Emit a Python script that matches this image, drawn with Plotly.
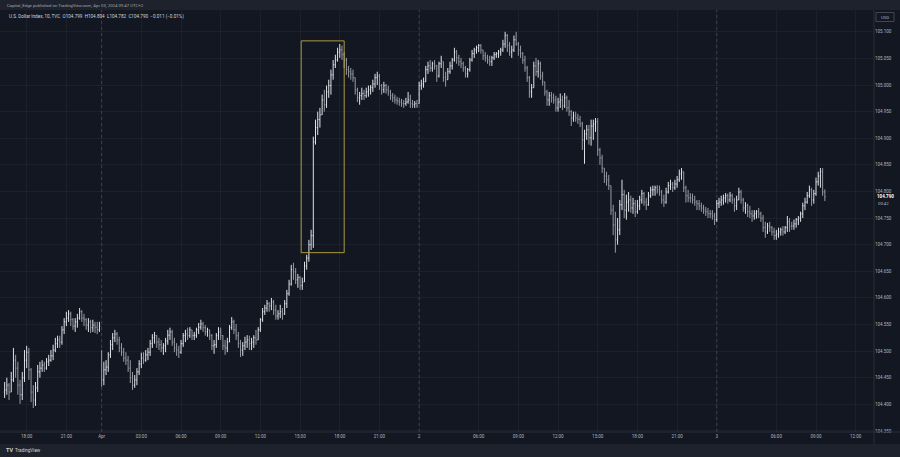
import plotly.graph_objects as go
from datetime import datetime, timedelta

# ---------------- data: U.S. Dollar Index, 10-minute bars (TVC:DXY), UTC+2 ----------------
sessions = [("2024-03-29 16:20", "2024-03-29 23:30"),
            ("2024-04-01 00:00", "2024-04-01 23:50"),
            ("2024-04-02 01:30", "2024-04-02 23:50"),
            ("2024-04-03 01:30", "2024-04-03 09:40")]

opens = [
    # Mar 29
    104.423, 104.427, 104.436, 104.423, 104.446, 104.483, 104.468, 104.436, 104.418, 104.450,
    104.483, 104.498, 104.465, 104.423, 104.408, 104.431, 104.461, 104.468, 104.474, 104.468,
    104.480, 104.483, 104.491, 104.502, 104.514, 104.521, 104.517, 104.540, 104.555, 104.562,
    104.570, 104.559, 104.547, 104.555, 104.562, 104.574, 104.562, 104.559, 104.549, 104.555,
    104.544, 104.549, 104.545, 104.540,
    # Apr 1
    104.493, 104.446, 104.465, 104.470, 104.493, 104.512, 104.525, 104.532, 104.521, 104.506,
    104.498, 104.487, 104.483, 104.468, 104.450, 104.436, 104.446, 104.461, 104.476, 104.487,
    104.483, 104.493, 104.498, 104.514, 104.525, 104.529, 104.517, 104.512, 104.506, 104.510,
    104.519, 104.530, 104.536, 104.517, 104.506, 104.502, 104.498, 104.514, 104.529, 104.532,
    104.529, 104.540, 104.529, 104.530, 104.540, 104.545, 104.551, 104.544, 104.536, 104.540,
    104.529, 104.510, 104.512, 104.529, 104.536, 104.529, 104.510, 104.506, 104.517, 104.544,
    104.555, 104.540, 104.529, 104.514, 104.502, 104.510, 104.517, 104.521, 104.514, 104.517,
    104.525, 104.521, 104.540, 104.559, 104.574, 104.581, 104.589, 104.585, 104.592, 104.577,
    104.566, 104.570, 104.574, 104.570, 104.589, 104.608, 104.626, 104.653, 104.649, 104.634,
    104.638, 104.623, 104.630, 104.660, 104.675, 104.700, 104.717, 104.893, 104.920, 104.935,
    104.944, 104.972, 104.963, 104.987, 104.999, 105.019, 105.038, 105.047, 105.062, 105.066,
    105.057, 105.047, 105.029, 105.025, 105.021, 105.014, 104.991, 104.976, 104.980, 104.984,
    104.980, 104.987, 104.991, 104.995, 105.002, 105.014, 105.017, 104.999, 104.991, 104.999,
    104.991, 104.987, 104.980, 104.976, 104.972, 104.970, 104.968, 104.965, 104.965, 104.968,
    104.972, 104.965, 104.963, 104.965,
    # Apr 2
    104.965, 104.999, 105.002, 105.006, 105.029, 105.036, 105.032, 105.040, 105.036, 105.017,
    105.040, 105.044, 105.014, 105.010, 105.025, 105.036, 105.047, 105.062, 105.051, 105.044,
    105.040, 105.032, 105.021, 105.029, 105.047, 105.059, 105.066, 105.070, 105.074, 105.066,
    105.055, 105.051, 105.047, 105.044, 105.051, 105.057, 105.059, 105.062, 105.066, 105.077,
    105.093, 105.074, 105.062, 105.066, 105.085, 105.077, 105.066, 105.059, 105.047, 105.032,
    105.014, 104.987, 104.995, 105.036, 105.025, 105.040, 105.017, 105.006, 104.987, 104.972,
    104.980, 104.976, 104.972, 104.957, 104.968, 104.972, 104.961, 104.976, 104.957, 104.950,
    104.938, 104.942, 104.938, 104.935, 104.927, 104.897, 104.908, 104.916, 104.901, 104.923,
    104.927, 104.931, 104.878, 104.863, 104.844, 104.829, 104.822, 104.811, 104.765, 104.737,
    104.709, 104.728, 104.775, 104.794, 104.765, 104.780, 104.784, 104.769, 104.777, 104.762,
    104.773, 104.784, 104.796, 104.780, 104.775, 104.792, 104.803, 104.803, 104.807, 104.803,
    104.799, 104.784, 104.780, 104.799, 104.811, 104.814, 104.807, 104.814, 104.822, 104.833,
    104.837, 104.807, 104.792, 104.788, 104.788, 104.784, 104.780, 104.777, 104.773, 104.769,
    104.765, 104.762, 104.758, 104.758, 104.754,
    # Apr 3
    104.747, 104.777, 104.780, 104.784, 104.788, 104.792, 104.784, 104.792, 104.784, 104.773,
    104.784, 104.799, 104.784, 104.769, 104.773, 104.762, 104.758, 104.754, 104.758, 104.762,
    104.758, 104.750, 104.732, 104.724, 104.735, 104.732, 104.724, 104.717, 104.720, 104.724,
    104.728, 104.724, 104.732, 104.743, 104.735, 104.735, 104.739, 104.747, 104.750, 104.758,
    104.773, 104.780, 104.792, 104.803, 104.784, 104.796, 104.818, 104.829, 104.837, 104.799,
]

highs = [
    # Mar 29
    104.442, 104.450, 104.440, 104.461, 104.506, 104.493, 104.480, 104.446, 104.461, 104.502,
    104.510, 104.506, 104.468, 104.436, 104.442, 104.474, 104.480, 104.483, 104.480, 104.487,
    104.493, 104.502, 104.512, 104.525, 104.529, 104.529, 104.547, 104.562, 104.574, 104.577,
    104.574, 104.562, 104.562, 104.570, 104.581, 104.577, 104.570, 104.562, 104.562, 104.559,
    104.559, 104.555, 104.555, 104.555,
    # Apr 1
    104.502, 104.480, 104.483, 104.498, 104.521, 104.534, 104.540, 104.536, 104.527, 104.515,
    104.506, 104.498, 104.491, 104.483, 104.461, 104.455, 104.468, 104.483, 104.497, 104.498,
    104.502, 104.506, 104.521, 104.532, 104.536, 104.530, 104.525, 104.521, 104.515, 104.525,
    104.540, 104.544, 104.540, 104.525, 104.515, 104.510, 104.521, 104.534, 104.540, 104.544,
    104.545, 104.540, 104.536, 104.544, 104.553, 104.559, 104.555, 104.549, 104.544, 104.540,
    104.532, 104.521, 104.534, 104.545, 104.544, 104.530, 104.521, 104.525, 104.549, 104.564,
    104.559, 104.551, 104.536, 104.521, 104.517, 104.527, 104.530, 104.529, 104.525, 104.530,
    104.540, 104.545, 104.562, 104.581, 104.587, 104.596, 104.592, 104.600, 104.596, 104.587,
    104.577, 104.587, 104.581, 104.596, 104.615, 104.634, 104.662, 104.666, 104.656, 104.645,
    104.641, 104.638, 104.668, 104.681, 104.709, 104.728, 104.903, 104.935, 104.950, 104.957,
    104.982, 104.991, 104.999, 105.010, 105.029, 105.047, 105.057, 105.070, 105.077, 105.074,
    105.062, 105.051, 105.036, 105.032, 105.029, 105.014, 104.995, 104.987, 104.995, 104.991,
    104.995, 104.999, 105.000, 105.010, 105.021, 105.025, 105.021, 105.002, 105.006, 105.002,
    104.999, 104.991, 104.985, 104.982, 104.978, 104.976, 104.974, 104.972, 104.976, 104.987,
    104.982, 104.972, 104.970, 104.972,
    # Apr 2
    105.006, 105.010, 105.014, 105.036, 105.044, 105.047, 105.044, 105.047, 105.038, 105.044,
    105.055, 105.044, 105.025, 105.032, 105.044, 105.051, 105.070, 105.066, 105.057, 105.051,
    105.044, 105.036, 105.032, 105.051, 105.066, 105.070, 105.074, 105.077, 105.077, 105.066,
    105.062, 105.057, 105.055, 105.055, 105.062, 105.062, 105.066, 105.070, 105.085, 105.100,
    105.096, 105.081, 105.074, 105.093, 105.100, 105.081, 105.074, 105.062, 105.055, 105.036,
    105.017, 105.002, 105.044, 105.051, 105.047, 105.044, 105.025, 105.006, 104.991, 104.987,
    104.987, 104.984, 104.980, 104.976, 104.984, 104.980, 104.985, 104.980, 104.972, 104.953,
    104.950, 104.950, 104.946, 104.942, 104.931, 104.916, 104.925, 104.925, 104.935, 104.935,
    104.938, 104.938, 104.882, 104.869, 104.844, 104.837, 104.831, 104.811, 104.775, 104.762,
    104.750, 104.784, 104.822, 104.803, 104.794, 104.799, 104.792, 104.788, 104.784, 104.784,
    104.792, 104.803, 104.799, 104.788, 104.799, 104.809, 104.811, 104.811, 104.812, 104.811,
    104.803, 104.794, 104.807, 104.818, 104.822, 104.818, 104.822, 104.829, 104.841, 104.844,
    104.837, 104.811, 104.803, 104.797, 104.796, 104.792, 104.784, 104.784, 104.779, 104.775,
    104.771, 104.769, 104.765, 104.765, 104.760,
    # Apr 3
    104.784, 104.788, 104.792, 104.794, 104.797, 104.796, 104.799, 104.796, 104.788, 104.792,
    104.807, 104.803, 104.788, 104.780, 104.777, 104.773, 104.765, 104.765, 104.765, 104.769,
    104.762, 104.756, 104.743, 104.741, 104.743, 104.735, 104.732, 104.728, 104.732, 104.732,
    104.735, 104.735, 104.754, 104.750, 104.743, 104.747, 104.750, 104.754, 104.762, 104.779,
    104.788, 104.799, 104.811, 104.807, 104.803, 104.826, 104.837, 104.844, 104.844, 104.804,
]

lows = [
    # Mar 29
    104.412, 104.418, 104.408, 104.423, 104.442, 104.450, 104.418, 104.401, 104.408, 104.442,
    104.468, 104.446, 104.404, 104.393, 104.397, 104.423, 104.450, 104.461, 104.461, 104.465,
    104.472, 104.480, 104.483, 104.498, 104.506, 104.506, 104.512, 104.532, 104.547, 104.555,
    104.547, 104.540, 104.536, 104.544, 104.559, 104.555, 104.547, 104.540, 104.536, 104.534,
    104.536, 104.534, 104.532, 104.536,
    # Apr 1
    104.433, 104.436, 104.455, 104.461, 104.487, 104.502, 104.517, 104.512, 104.498, 104.491,
    104.480, 104.474, 104.461, 104.440, 104.427, 104.431, 104.436, 104.455, 104.468, 104.476,
    104.480, 104.483, 104.491, 104.506, 104.514, 104.506, 104.502, 104.498, 104.493, 104.498,
    104.512, 104.521, 104.510, 104.498, 104.491, 104.487, 104.495, 104.508, 104.517, 104.521,
    104.525, 104.521, 104.521, 104.525, 104.532, 104.540, 104.536, 104.529, 104.527, 104.521,
    104.502, 104.495, 104.506, 104.521, 104.521, 104.502, 104.493, 104.498, 104.517, 104.540,
    104.532, 104.521, 104.506, 104.489, 104.491, 104.502, 104.506, 104.502, 104.502, 104.506,
    104.512, 104.521, 104.536, 104.555, 104.568, 104.574, 104.574, 104.577, 104.568, 104.559,
    104.559, 104.562, 104.559, 104.568, 104.581, 104.604, 104.623, 104.634, 104.626, 104.619,
    104.615, 104.615, 104.630, 104.653, 104.668, 104.690, 104.694, 104.888, 104.906, 104.920,
    104.944, 104.950, 104.957, 104.976, 104.982, 105.010, 105.032, 105.044, 105.051, 105.047,
    105.032, 105.019, 105.014, 105.010, 105.006, 104.982, 104.968, 104.963, 104.972, 104.972,
    104.976, 104.978, 104.982, 104.987, 104.995, 105.000, 104.991, 104.982, 104.985, 104.984,
    104.980, 104.972, 104.968, 104.965, 104.963, 104.961, 104.959, 104.957, 104.961, 104.965,
    104.957, 104.957, 104.957, 104.957,
    # Apr 2
    104.965, 104.991, 104.995, 105.006, 105.021, 105.025, 105.025, 105.029, 105.006, 105.014,
    105.032, 105.006, 104.997, 105.010, 105.021, 105.029, 105.044, 105.040, 105.036, 105.032,
    105.025, 105.014, 105.014, 105.025, 105.044, 105.051, 105.059, 105.062, 105.059, 105.047,
    105.044, 105.040, 105.036, 105.036, 105.047, 105.051, 105.051, 105.055, 105.062, 105.070,
    105.062, 105.055, 105.051, 105.062, 105.074, 105.055, 105.051, 105.040, 105.025, 105.006,
    104.976, 104.976, 104.995, 105.017, 105.014, 105.010, 104.999, 104.980, 104.961, 104.961,
    104.967, 104.965, 104.950, 104.950, 104.957, 104.953, 104.957, 104.950, 104.942, 104.923,
    104.931, 104.931, 104.927, 104.921, 104.878, 104.852, 104.897, 104.888, 104.886, 104.897,
    104.912, 104.867, 104.850, 104.835, 104.816, 104.811, 104.803, 104.756, 104.718, 104.685,
    104.700, 104.718, 104.765, 104.750, 104.747, 104.762, 104.760, 104.758, 104.752, 104.758,
    104.765, 104.777, 104.773, 104.765, 104.773, 104.788, 104.792, 104.792, 104.796, 104.792,
    104.777, 104.771, 104.777, 104.796, 104.803, 104.799, 104.803, 104.807, 104.818, 104.822,
    104.799, 104.779, 104.780, 104.779, 104.777, 104.773, 104.765, 104.765, 104.762, 104.758,
    104.754, 104.750, 104.750, 104.747, 104.737,
    # Apr 3
    104.743, 104.769, 104.773, 104.775, 104.779, 104.777, 104.780, 104.777, 104.762, 104.765,
    104.784, 104.777, 104.762, 104.758, 104.752, 104.750, 104.743, 104.747, 104.749, 104.750,
    104.743, 104.724, 104.713, 104.720, 104.724, 104.717, 104.709, 104.709, 104.713, 104.717,
    104.717, 104.720, 104.724, 104.724, 104.728, 104.728, 104.732, 104.737, 104.743, 104.750,
    104.765, 104.777, 104.788, 104.773, 104.777, 104.792, 104.811, 104.807, 104.792, 104.782,
]

closes = [
    # Mar 29
    104.427, 104.436, 104.423, 104.446, 104.483, 104.468, 104.436, 104.418, 104.450, 104.483,
    104.498, 104.465, 104.423, 104.408, 104.431, 104.461, 104.468, 104.474, 104.468, 104.480,
    104.483, 104.491, 104.502, 104.514, 104.521, 104.517, 104.540, 104.555, 104.562, 104.570,
    104.559, 104.547, 104.555, 104.562, 104.574, 104.562, 104.559, 104.549, 104.555, 104.544,
    104.549, 104.545, 104.540, 104.547,
    # Apr 1
    104.446, 104.465, 104.470, 104.493, 104.512, 104.525, 104.532, 104.521, 104.506, 104.498,
    104.487, 104.483, 104.468, 104.450, 104.436, 104.446, 104.461, 104.476, 104.487, 104.483,
    104.493, 104.498, 104.514, 104.525, 104.529, 104.517, 104.512, 104.506, 104.510, 104.519,
    104.530, 104.536, 104.517, 104.506, 104.502, 104.498, 104.514, 104.529, 104.532, 104.529,
    104.540, 104.529, 104.530, 104.540, 104.545, 104.551, 104.544, 104.536, 104.540, 104.529,
    104.510, 104.512, 104.529, 104.536, 104.529, 104.510, 104.506, 104.517, 104.544, 104.555,
    104.540, 104.529, 104.514, 104.502, 104.510, 104.517, 104.521, 104.514, 104.517, 104.525,
    104.521, 104.540, 104.559, 104.574, 104.581, 104.589, 104.585, 104.592, 104.577, 104.566,
    104.570, 104.574, 104.570, 104.589, 104.608, 104.626, 104.653, 104.649, 104.634, 104.638,
    104.623, 104.630, 104.660, 104.675, 104.700, 104.717, 104.893, 104.920, 104.935, 104.944,
    104.972, 104.963, 104.987, 104.999, 105.019, 105.038, 105.047, 105.062, 105.066, 105.057,
    105.047, 105.029, 105.025, 105.021, 105.014, 104.991, 104.976, 104.980, 104.984, 104.980,
    104.987, 104.991, 104.995, 105.002, 105.014, 105.017, 104.999, 104.991, 104.999, 104.991,
    104.987, 104.980, 104.976, 104.972, 104.970, 104.968, 104.965, 104.965, 104.968, 104.972,
    104.965, 104.963, 104.965, 104.961,
    # Apr 2
    104.999, 105.002, 105.006, 105.029, 105.036, 105.032, 105.040, 105.036, 105.017, 105.040,
    105.047, 105.014, 105.010, 105.025, 105.036, 105.047, 105.062, 105.051, 105.044, 105.040,
    105.032, 105.021, 105.029, 105.047, 105.059, 105.066, 105.070, 105.074, 105.066, 105.055,
    105.051, 105.047, 105.044, 105.051, 105.057, 105.059, 105.062, 105.066, 105.077, 105.093,
    105.074, 105.062, 105.066, 105.085, 105.077, 105.066, 105.059, 105.047, 105.032, 105.014,
    104.987, 104.995, 105.036, 105.025, 105.040, 105.017, 105.006, 104.987, 104.972, 104.980,
    104.976, 104.972, 104.957, 104.968, 104.972, 104.961, 104.976, 104.957, 104.950, 104.938,
    104.942, 104.938, 104.935, 104.927, 104.897, 104.908, 104.916, 104.901, 104.923, 104.927,
    104.931, 104.878, 104.863, 104.844, 104.829, 104.822, 104.811, 104.765, 104.737, 104.709,
    104.728, 104.775, 104.794, 104.765, 104.780, 104.784, 104.769, 104.777, 104.762, 104.773,
    104.784, 104.796, 104.780, 104.775, 104.792, 104.803, 104.803, 104.807, 104.803, 104.799,
    104.784, 104.780, 104.799, 104.811, 104.814, 104.807, 104.814, 104.822, 104.833, 104.837,
    104.807, 104.792, 104.788, 104.788, 104.784, 104.780, 104.777, 104.773, 104.769, 104.765,
    104.762, 104.758, 104.758, 104.754, 104.747,
    # Apr 3
    104.777, 104.780, 104.784, 104.788, 104.792, 104.784, 104.792, 104.784, 104.773, 104.784,
    104.799, 104.784, 104.769, 104.773, 104.762, 104.758, 104.754, 104.758, 104.762, 104.758,
    104.750, 104.732, 104.724, 104.735, 104.732, 104.724, 104.717, 104.720, 104.724, 104.728,
    104.724, 104.732, 104.743, 104.735, 104.735, 104.739, 104.747, 104.750, 104.758, 104.773,
    104.780, 104.792, 104.803, 104.784, 104.796, 104.818, 104.829, 104.837, 104.799, 104.790,
]

# highlighted move (yellow box): time span and price span
box_start, box_end = "2024-04-01 15:10", "2024-04-01 18:20"
box_low, box_high = 104.685, 105.083

price_ticks_step = 0.05
y_range = [104.348, 105.141]
bars_right_space = 22          # empty bar slots to the right of the last bar
countdown = "00:42"
last_change, last_change_pct = -0.011, -0.01
header = "Capital_Edge published on TradingView.com, Apr 03, 2024 09:47 UTC+2"
symbol = "U.S. Dollar Index, 10, TVC"

# ---------------- build time axis ----------------
FMT = "%Y-%m-%d %H:%M"
times = []
for s, e in sessions:
    t, end = datetime.strptime(s, FMT), datetime.strptime(e, FMT)
    while t <= end:
        times.append(t)
        t += timedelta(minutes=10)
n = len(times)
assert n == len(opens) == len(highs) == len(lows) == len(closes)
idx = list(range(n))

axis_times = list(times)
t = times[-1]
for _ in range(bars_right_space):
    t += timedelta(minutes=10)
    axis_times.append(t)

day_starts = [i for i in range(1, n) if times[i].date() != times[i - 1].date()]
tickvals, ticktext = [], []
for i, tt in enumerate(axis_times):
    if i in day_starts:
        lab = tt.strftime("%b") if tt.day == 1 else str(tt.day)
    elif tt.minute == 0 and tt.hour % 3 == 0:
        if any(0 <= i - d < 14 for d in day_starts):
            continue
        lab = tt.strftime("%H:%M")
    else:
        continue
    tickvals.append(i)
    ticktext.append(lab)

def t_index(s):
    return times.index(datetime.strptime(s, FMT))

# ---------------- figure ----------------
BG = "#131722"
STRIP = "#1e222d"
TXT = "#b2b5be"
GRID = "rgba(54,58,69,0.28)"
FONT = "Roboto"

W, H = 900, 457
L, R, T, B = 0, 26, 10, 25
PW, PH = W - L - R, H - T - B

def px(xp):
    return (xp - L) / PW

def py(yp):
    return (T + PH - yp) / PH

fig = go.Figure()
fig.add_trace(go.Ohlc(
    x=idx, open=opens, high=highs, low=lows, close=closes,
    increasing=dict(line=dict(color="#dfe1e7", width=1)),
    decreasing=dict(line=dict(color="#979aa3", width=1)),
    tickwidth=0.35, hoverinfo="skip", showlegend=False,
))

x_lo = -2.1
x_hi = n - 1 + bars_right_space

shapes = []
# header and footer strips
shapes.append(dict(type="rect", xref="paper", yref="paper", x0=px(0), x1=px(W), y0=py(T), y1=py(0),
                   fillcolor=STRIP, line=dict(width=0), layer="above"))
shapes.append(dict(type="rect", xref="paper", yref="paper", x0=px(0), x1=px(W), y0=py(H), y1=py(444),
                   fillcolor=STRIP, line=dict(width=0), layer="above"))
# axis separator lines
shapes.append(dict(type="line", xref="paper", yref="paper", x0=1, x1=1, y0=py(444), y1=1,
                   line=dict(color="#2a2e39", width=1)))
shapes.append(dict(type="line", xref="paper", yref="paper", x0=0, x1=px(W), y0=0, y1=0,
                   line=dict(color="#2a2e39", width=1)))
# session (day) separators
for d in day_starts:
    shapes.append(dict(type="line", xref="x", yref="paper", x0=d, x1=d, y0=0, y1=1,
                       line=dict(color="#3f4350", width=1, dash="dot"), layer="below"))
# highlight box
shapes.append(dict(type="rect", xref="x", yref="y",
                   x0=t_index(box_start) - 0.5, x1=t_index(box_end),
                   y0=box_low, y1=box_high,
                   line=dict(color="#ad9a3e", width=1), fillcolor="rgba(0,0,0,0)", layer="above"))
# currency box on price scale
shapes.append(dict(type="rect", xref="paper", yref="paper", x0=px(876), x1=px(894), y0=py(21.5), y1=py(12.5),
                   line=dict(color="#434651", width=1), fillcolor=BG, layer="above"))

last = n - 1
legend_txt = (f"{symbol}  O{opens[last]:.3f}  H{highs[last]:.3f}  L{lows[last]:.3f}  "
              f"C{closes[last]:.3f}  \u2212{abs(last_change):.3f} (\u2212{abs(last_change_pct):.2f}%)")

annotations = [
    dict(text=header, xref="paper", yref="paper", x=px(5), y=py(5), xanchor="left", yanchor="middle",
         showarrow=False, font=dict(size=4.3, color="#a3a6af", family=FONT)),
    dict(text=legend_txt, xref="paper", yref="paper", x=px(7), y=py(16), xanchor="left", yanchor="middle",
         showarrow=False, font=dict(size=4.6, color="#d1d4dc", family=FONT)),
    dict(text="USD", xref="paper", yref="paper", x=px(885), y=py(17), xanchor="center", yanchor="middle",
         showarrow=False, font=dict(size=4.2, color=TXT, family=FONT)),
    dict(text=f"<b>{closes[last]:.3f}</b>", xref="paper", yref="y", x=px(876), y=closes[last],
         xanchor="left", yanchor="middle", showarrow=False, font=dict(size=4.5, color="#ffffff", family=FONT),
         bgcolor=BG, borderpad=0),
    dict(text=countdown, xref="paper", yref="paper", x=px(876), y=py(203.5),
         xanchor="left", yanchor="middle", showarrow=False, font=dict(size=4.3, color=TXT, family=FONT)),
    dict(text="<b>TV</b>", xref="paper", yref="paper", x=px(4), y=py(450.5), xanchor="left", yanchor="middle",
         showarrow=False, font=dict(size=5.5, color="#d1d4dc", family=FONT)),
    dict(text="TradingView", xref="paper", yref="paper", x=px(13), y=py(450.5), xanchor="left", yanchor="middle",
         showarrow=False, font=dict(size=4.6, color="#d1d4dc", family=FONT)),
]

fig.update_layout(
    template="none",
    width=W, height=H,
    margin=dict(l=L, r=R, t=T, b=B, pad=0),
    paper_bgcolor=BG, plot_bgcolor=BG,
    showlegend=False, hovermode=False,
    font=dict(family=FONT, color=TXT),
    shapes=shapes, annotations=annotations,
    xaxis=dict(range=[x_lo, x_hi + 0.3], tickmode="array", tickvals=tickvals, ticktext=ticktext,
               showgrid=True, gridcolor=GRID, gridwidth=1, zeroline=False, showline=False,
               ticks="", ticklen=0, tickfont=dict(size=4.5, color=TXT, family=FONT),
               rangeslider=dict(visible=False), automargin=False, fixedrange=True),
    yaxis=dict(range=y_range, side="right", tick0=104.35, dtick=price_ticks_step, tickformat=".3f",
               showgrid=True, gridcolor=GRID, gridwidth=1, zeroline=False, showline=False,
               ticks="", ticklen=0, tickfont=dict(size=4.5, color=TXT, family=FONT),
               automargin=False, fixedrange=True),
)

fig.write_html(
    "out.html",
    config={"displayModeBar": False, "staticPlot": True},
    post_script="document.body.style.margin='0';document.body.style.padding='0';"
                "document.body.style.overflow='hidden';document.body.style.background='#131722';",
)
